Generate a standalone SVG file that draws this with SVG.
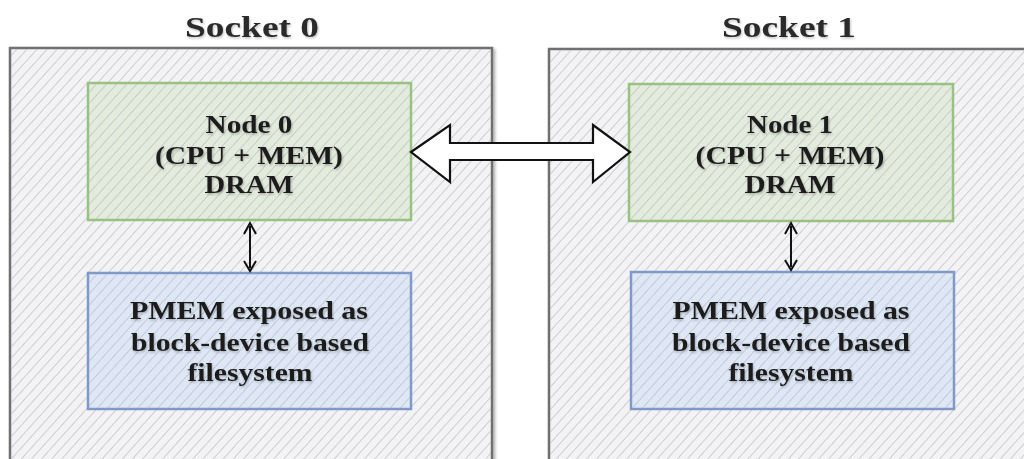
<svg xmlns="http://www.w3.org/2000/svg" width="1024" height="459" viewBox="0 0 1024 459">
  <defs>
    <pattern id="hatch" patternUnits="userSpaceOnUse" width="7.5" height="7.5" patternTransform="rotate(42)">
      <line x1="0" y1="0" x2="0" y2="7.5" stroke="#bdbdc4" stroke-width="1.4"/>
    </pattern>
    <filter id="shadow" x="-5%" y="-5%" width="110%" height="110%">
      <feDropShadow dx="2" dy="2" stdDeviation="1.5" flood-color="#000" flood-opacity="0.3"/>
    </filter>
    <filter id="tshadow" x="-10%" y="-20%" width="120%" height="140%">
      <feDropShadow dx="1" dy="1.5" stdDeviation="1.2" flood-color="#000" flood-opacity="0.25"/>
    </filter>
  </defs>
  <style>
    .socket { fill: #f3f3f5; stroke: #707070; stroke-width: 2.5; }
    .hatch { fill: url(#hatch); stroke: none; }
    .green { fill: #e3ebdc; stroke: #98c281; stroke-width: 2.5; }
    .blue { fill: #dde7f6; stroke: #7f9ac8; stroke-width: 2.5; }
    .lbl { font-family: "Liberation Serif", "Times New Roman", serif; font-weight: bold; fill: #1f1f1f; text-anchor: middle; filter: url(#tshadow); }
    .title { font-size: 30px; fill: #2a2a2a; }
    .txt { font-size: 25px; }
    .conn { fill: none; stroke: #111; stroke-width: 2; stroke-linejoin: miter; }
    .big { fill: #ffffff; stroke: #111; stroke-width: 2.2; stroke-linejoin: miter; }
  </style>
  <rect width="1024" height="459" fill="#ffffff"/>

  <g id="socket0">
    <rect class="socket" x="10" y="48" width="482" height="414" filter="url(#shadow)"/>
    <rect class="hatch" x="11" y="49" width="480" height="412"/>
    <text class="lbl title" x="252" y="37" textLength="134" lengthAdjust="spacingAndGlyphs">Socket 0</text>
  </g>

  <g id="socket1">
    <rect class="socket" x="549" y="49" width="490" height="414" filter="url(#shadow)"/>
    <rect class="hatch" x="550" y="50" width="488" height="412"/>
    <text class="lbl title" x="789" y="37" textLength="134" lengthAdjust="spacingAndGlyphs">Socket 1</text>
  </g>

  <g id="node0">
    <rect class="green" x="88" y="83" width="323" height="137"/>
    <rect class="hatch" x="89" y="84" width="321" height="135"/>
    <text class="lbl txt" x="249" y="133" textLength="87" lengthAdjust="spacingAndGlyphs">Node 0</text>
    <text class="lbl txt" x="249" y="164" textLength="188" lengthAdjust="spacingAndGlyphs">(CPU + MEM)</text>
    <text class="lbl txt" x="249" y="193" textLength="89" lengthAdjust="spacingAndGlyphs">DRAM</text>
  </g>

  <g id="node1">
    <rect class="green" x="629" y="84" width="324" height="137"/>
    <rect class="hatch" x="630" y="85" width="322" height="135"/>
    <text class="lbl txt" x="790" y="133" textLength="86" lengthAdjust="spacingAndGlyphs">Node 1</text>
    <text class="lbl txt" x="790" y="164" textLength="189" lengthAdjust="spacingAndGlyphs">(CPU + MEM)</text>
    <text class="lbl txt" x="790" y="193" textLength="91" lengthAdjust="spacingAndGlyphs">DRAM</text>
  </g>

  <g id="pmem0">
    <rect class="blue" x="88" y="273" width="323" height="136"/>
    <rect class="hatch" x="89" y="274" width="321" height="134"/>
    <text class="lbl txt" x="249" y="319" textLength="238" lengthAdjust="spacingAndGlyphs">PMEM exposed as</text>
    <text class="lbl txt" x="250" y="351" textLength="238" lengthAdjust="spacingAndGlyphs">block-device based</text>
    <text class="lbl txt" x="250" y="381" textLength="125" lengthAdjust="spacingAndGlyphs">filesystem</text>
  </g>

  <g id="pmem1">
    <rect class="blue" x="631" y="272" width="323" height="137"/>
    <rect class="hatch" x="632" y="273" width="321" height="135"/>
    <text class="lbl txt" x="791" y="319" textLength="237" lengthAdjust="spacingAndGlyphs">PMEM exposed as</text>
    <text class="lbl txt" x="791" y="351" textLength="238" lengthAdjust="spacingAndGlyphs">block-device based</text>
    <text class="lbl txt" x="791" y="381" textLength="125" lengthAdjust="spacingAndGlyphs">filesystem</text>
  </g>

  <g id="connectors">
    <polygon class="big" points="411,152 450,125 450,143 593,143 593,125 630,152 593,182 593,160 450,160 450,182"/>
    <g id="conn0">
      <line class="conn" x1="250" y1="226" x2="250" y2="268"/>
      <polyline class="conn" points="244,234 250,223 256,234"/>
      <polyline class="conn" points="244,261 250,271 256,261"/>
    </g>
    <g id="conn1">
      <line class="conn" x1="791" y1="226" x2="791" y2="267"/>
      <polyline class="conn" points="785,234 791,223 797,234"/>
      <polyline class="conn" points="785,260 791,270 797,260"/>
    </g>
  </g>
</svg>
